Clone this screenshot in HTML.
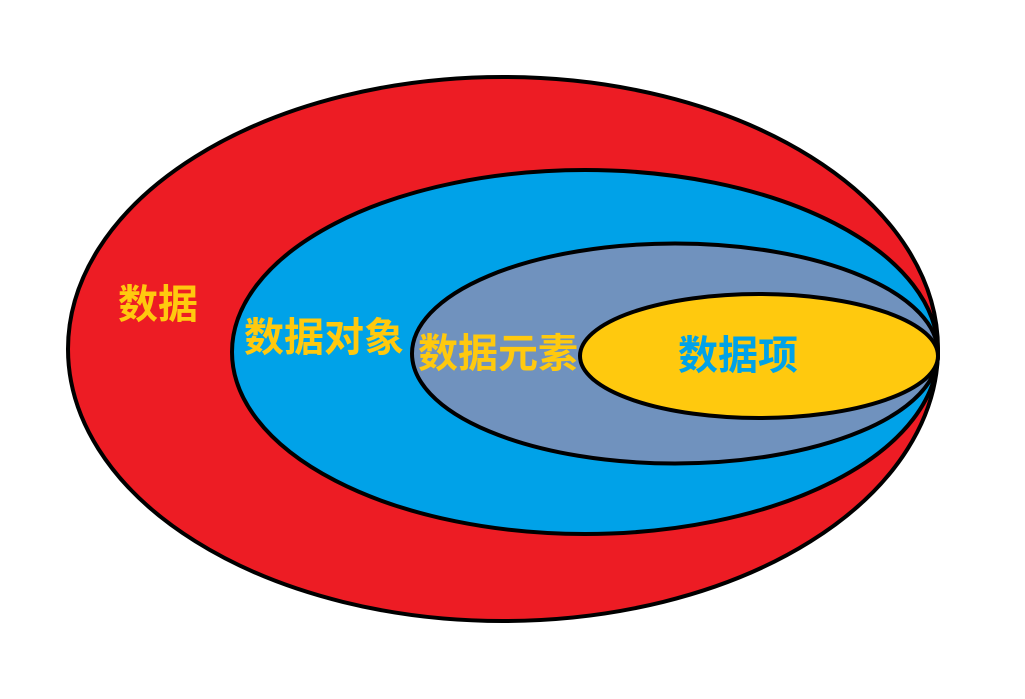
<!DOCTYPE html>
<html><head><meta charset="utf-8">
<style>
html,body{margin:0;padding:0;background:#fff;}
svg{display:block;}
text{font-family:"Liberation Sans","Noto Sans CJK SC","WenQuanYi Zen Hei",sans-serif;font-weight:bold;font-size:40px;dominant-baseline:central;}
</style></head>
<body>
<svg width="1025" height="699" viewBox="0 0 1025 699">
  <rect width="1025" height="699" fill="#fff"/>
  <ellipse cx="503" cy="349" rx="435" ry="272" fill="#ED1C24" stroke="#000" stroke-width="4"/>
  <ellipse cx="585" cy="352" rx="353" ry="182" fill="#00A2E8" stroke="#000" stroke-width="4"/>
  <ellipse cx="675" cy="353.5" rx="263" ry="110" fill="#7092BE" stroke="#000" stroke-width="4"/>
  <ellipse cx="759" cy="356" rx="179" ry="62" fill="#FFC90E" stroke="#000" stroke-width="4"/>
  <text x="158" y="305" text-anchor="middle" fill="#FFC90E">数据</text>
  <text x="324" y="338" text-anchor="middle" fill="#FFC90E">数据对象</text>
  <text x="498" y="354" text-anchor="middle" fill="#FFC90E">数据元素</text>
  <text x="738" y="356" text-anchor="middle" fill="#00A2E8">数据项</text>
</svg>
</body></html>
